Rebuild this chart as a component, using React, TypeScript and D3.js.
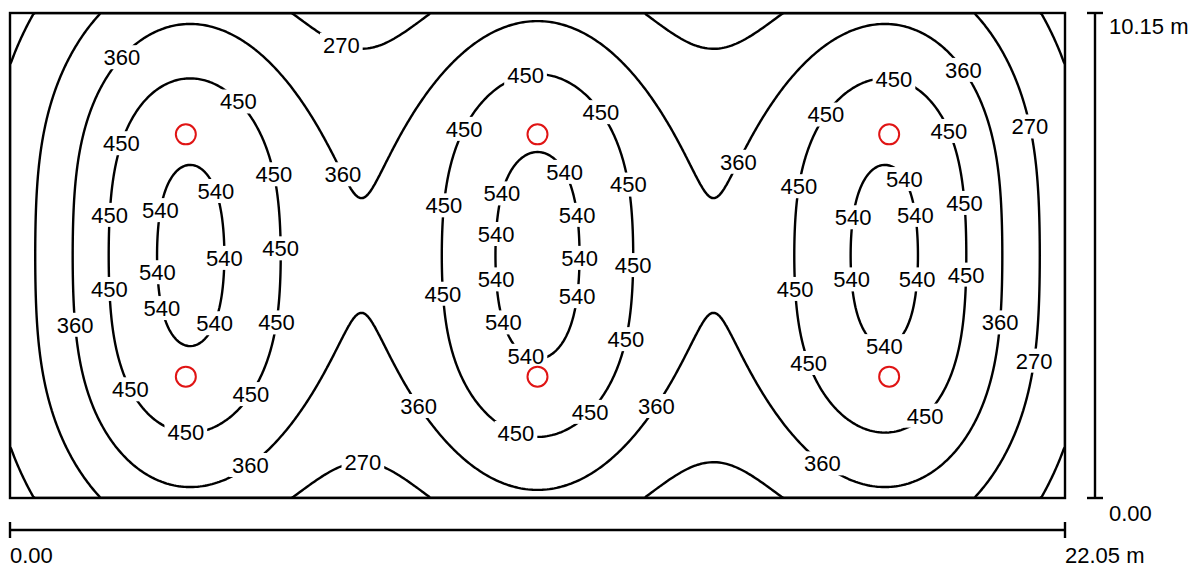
import React, { useMemo } from 'react';
import * as d3 from 'd3';

// ---------- data (metres, lux) ----------
const ROOM_W = 22.05;
const ROOM_H = 10.15;
const lumX = [3.675, 11.025, 18.375];
const lumY = [2.54, 7.61];
const levels = [180, 270, 360, 450, 540];
const axisLabels = { x0: '0.00', x1: '22.05 m', y0: '0.00', y1: '10.15 m' };

type P = [number, number];
// label anchors
const labels540: P[] = [
  [4.18, 6.4], [3.135, 6.01], [4.49, 5.04], [3.03, 4.71], [3.18, 4.0], [4.2, 3.68],
  [11.6, 6.8], [10.24, 6.4], [11.87, 5.92], [10.07, 5.55], [11.95, 5.04], [10.07, 4.56], [11.87, 4.21], [10.24, 3.68], [10.76, 2.89],
  [18.56, 6.61], [17.66, 5.86], [18.91, 5.92], [17.6, 4.58], [18.98, 4.58], [18.29, 3.33],
];
const labels450: P[] = [
  [4.87, 8.39], [2.15, 7.49], [5.54, 6.8], [1.9, 5.92], [5.79, 5.25], [1.88, 4.35], [5.62, 3.68], [2.32, 2.18], [5.14, 2.13], [3.66, 1.19],
  [10.76, 8.96], [12.44, 8.16], [9.41, 7.76], [13.0, 6.57], [8.92, 6.13], [13.17, 4.88], [8.9, 4.25], [12.94, 3.31], [12.25, 1.67], [10.49, 1.17],
  [18.5, 8.89], [16.97, 8.06], [19.77, 7.76], [16.45, 6.55], [20.11, 6.19], [16.26, 4.35], [20.13, 4.67], [16.62, 2.78], [19.27, 1.57],
];
const labels360: P[] = [
  [2.28, 9.31], [6.77, 6.7], [1.19, 3.62], [5.06, 0.65], [8.57, 1.95], [13.48, 1.95], [15.4, 6.97], [20.02, 9.02], [20.84, 3.64], [16.93, 0.65],
];
const labels270: P[] = [[6.88, 9.33], [7.38, 0.9], [21.32, 7.76], [21.44, 2.89]];

// further points
const trace540: P[] = [[3.76, 6.8], [3.76, 3.33], [11.01, 7.28], [10.87, 2.76], [18.1, 6.7]];
const trace450: P[] = [[3.55, 8.92], [8.88, 5.19], [18.39, 1.17], [9.99, 1.49]];
const trace360: P[] = [
  [3.7, 9.84], [4.66, 9.65], [5.85, 8.69], [7.32, 6.28], [8.36, 7.7], [9.55, 9.52], [10.93, 9.9], [12.06, 9.59],
  [13.02, 8.6], [14.63, 6.28], [16.51, 9.02], [18.25, 9.84], [20.86, 5.55], [19.65, 0.73], [18.39, 0.27], [14.69, 3.83],
  [10.93, 0.21], [7.32, 3.87], [3.55, 0.31], [2.09, 1.0], [1.15, 5.23],
];
const trace270: P[] = [
  [1.88, 10.15], [1.19, 9.02], [0.69, 7.64], [0.38, 5.19], [0.63, 2.05], [1.19, 0.73], [1.88, 0],
  [5.96, 10.15], [8.15, 9.65], [8.78, 10.15], [13.23, 10.15], [14.07, 9.52], [14.69, 9.21], [16.51, 10.15],
  [5.91, 0], [8.15, 0.44], [8.78, 0], [13.23, 0], [14.69, 0.94], [16.16, 0], [20.21, 10.15], [21.67, 5.23], [20.17, 0],
];
const trace180: P[] = [[0, 8.79], [0.52, 10.15], [0, 1.38], [0.56, 0], [21.53, 10.15], [22.05, 8.79], [21.99, 1.28], [21.49, 0]];

const labelSets: [number, P[]][] = [[540, labels540], [450, labels450], [360, labels360], [270, labels270]];
const traceSets: [number, P[]][] = [[540, trace540], [450, trace450], [360, trace360], [270, trace270], [180, trace180]];

// ---------- fitting a luminaire illuminance model to the traced isolines ----------
type Obs = { x: number; y: number; v: number; w: number };
const obs: Obs[] = [];
for (const [v, pts] of [...labelSets, ...traceSets]) for (const [x, y] of pts) obs.push({ x, y, v, w: 1 });

type Shape = [number, number, number, number]; // sx, sy, px, py
function basis(x: number, y: number, s: Shape) {
  let t = 0;
  for (const lx of lumX) {
    const dx = (x - lx) / s[0];
    const gx = Math.pow(1 + dx * dx, -s[2]);
    for (const ly of lumY) {
      const dy = (y - ly) / s[1];
      t += gx * Math.pow(1 + dy * dy, -s[3]);
    }
  }
  return t;
}
type Fit = { A: number; C: number; err: number; s: Shape };
function fitLinear(s: Shape): Fit {
  let n = 0, Sb = 0, Sv = 0, Sbb = 0, Sbv = 0, Svv = 0;
  for (const o of obs) {
    const b = basis(o.x, o.y, s), w = o.w;
    n += w; Sb += w * b; Sv += w * o.v; Sbb += w * b * b; Sbv += w * b * o.v; Svv += w * o.v * o.v;
  }
  const A = (n * Sbv - Sb * Sv) / (n * Sbb - Sb * Sb);
  const C = (Sv - A * Sb) / n;
  const err = Svv - 2 * A * Sbv - 2 * C * Sv + A * A * Sbb + 2 * A * C * Sb + n * C * C;
  return { A, C, err, s };
}
function descend(start: Fit): Fit {
  let best = start;
  for (const step of [0.5, 0.2, 0.1, 0.05, 0.02, 0.01]) {
    let improved = true, guard = 0;
    while (improved && guard++ < 200) {
      improved = false;
      for (let k = 0; k < 4; k++) for (const sg of [1, -1]) {
        const s = best.s.slice() as Shape;
        s[k] += sg * step * (k < 2 ? 1 : 0.5);
        if (s[k] <= 0.2) continue;
        const r = fitLinear(s);
        if (r.err < best.err - 1e-12) { best = r; improved = true; }
      }
    }
  }
  return best;
}
function evalFit(f: Fit, x: number, y: number) {
  return f.C + f.A * basis(x, y, f.s);
}
function fitModel(): Fit {
  let best: Fit | null = null;
  for (const sx of [2, 5, 9]) for (const sy of [3, 6, 11]) for (const px of [1.5, 6]) for (const py of [1.5, 6]) {
    const r = descend(fitLinear([sx, sy, px, py]));
    if (!best || r.err < best.err) best = r;
  }
  // reweight so that the fit minimises positional (not value) error of the isolines
  for (let it = 0; it < 3; it++) {
    const f = best!;
    for (const o of obs) {
      const h = 0.02;
      const gx = (evalFit(f, o.x + h, o.y) - evalFit(f, o.x - h, o.y)) / (2 * h);
      const gy = (evalFit(f, o.x, o.y + h) - evalFit(f, o.x, o.y - h)) / (2 * h);
      o.w = 1 / Math.max(gx * gx + gy * gy, 400);
    }
    best = descend(fitLinear(f.s));
  }
  return best!;
}

// ---------- layout ----------
const W = 1197, H = 567;
const X0 = 10, X1 = 1065, Y0 = 13, Y1 = 498;
const FS = 22;
const FONT = '"Liberation Sans", Arial, Helvetica, sans-serif';

export default function App() {
  const model = useMemo(() => fitModel(), []);
  const xs = d3.scaleLinear().domain([0, ROOM_W]).range([X0, X1]);
  const ys = d3.scaleLinear().domain([0, ROOM_H]).range([Y1, Y0]);

  const { contours, nx, ny, cx, cy } = useMemo(() => {
    const nx = 441, ny = 203;
    const cx = ROOM_W / nx, cy = ROOM_H / ny;
    const values = new Array(nx * ny);
    for (let j = 0; j < ny; j++)
      for (let i = 0; i < nx; i++)
        values[j * nx + i] = evalFit(model, (i + 0.5) * cx, (j + 0.5) * cy);
    const contours = d3.contours().size([nx, ny]).thresholds(levels)(values);
    return { contours, nx, ny, cx, cy };
  }, [model]);

  const path = d3.geoPath(
    d3.geoTransform({
      point(x: number, y: number) {
        (this as any).stream.point(xs(x * cx), ys(y * cy));
      },
    })
  );

  // snap each label to the nearest vertex of its isoline
  const placed = labelSets.map(([lv, pts]) => {
    const c = contours.find((k) => k.value === lv);
    const verts: P[] = [];
    if (c) for (const poly of c.coordinates) for (const ring of poly) for (const [gx, gy] of ring) {
      if (gx <= 0.01 || gx >= nx - 0.01 || gy <= 0.01 || gy >= ny - 0.01) continue;
      verts.push([gx * cx, gy * cy]);
    }
    const out = pts.map(([x, y]) => {
      let bx = x, by = y, bd = Infinity;
      for (const [vx, vy] of verts) {
        const d = (vx - x) ** 2 + (vy - y) ** 2;
        if (d < bd) { bd = d; bx = vx; by = vy; }
      }
      return { px: xs(bx), py: ys(by), text: String(lv) };
    });
    return { lv, out };
  });

  const textW = (t: string) => t.length * 0.556 * FS;

  return (
    <svg width={W} height={H} style={{ position: 'absolute', left: 0, top: 0, background: '#fff' }} fontFamily={FONT}>
      <defs>
        <clipPath id="plot">
          <rect x={X0} y={Y0} width={X1 - X0} height={Y1 - Y0} />
        </clipPath>
        {placed.map(({ lv, out }) => (
          <mask id={`m${lv}`} key={lv} maskUnits="userSpaceOnUse" x={0} y={0} width={W} height={H}>
            <rect x={0} y={0} width={W} height={H} fill="#fff" />
            {out.map((l, i) => (
              <rect key={i} x={l.px - textW(l.text) / 2 - 3} y={l.py - 12} width={textW(l.text) + 6} height={24} fill="#000" />
            ))}
          </mask>
        ))}
      </defs>
      <rect x={0} y={0} width={W} height={H} fill="#fff" />
      <g clipPath="url(#plot)">
        {contours.map((c) => (
          <g key={c.value} mask={c.value !== 180 ? `url(#m${c.value})` : undefined}>
            <path d={path(c as any) || ''} fill="none" stroke="#000" strokeWidth={2.4} strokeLinejoin="round" />
          </g>
        ))}
      </g>
      {placed.map(({ lv, out }) =>
        out.map((l, i) => (
          <text key={`${lv}-${i}`} x={l.px} y={l.py + 0.36 * FS} textAnchor="middle" fontSize={FS} fill="#000">
            {l.text}
          </text>
        ))
      )}
      {lumX.map((lx) =>
        lumY.map((ly) => (
          <circle key={`${lx}-${ly}`} cx={xs(lx)} cy={ys(ly)} r={10} fill="none" stroke="#e01414" strokeWidth={2} />
        ))
      )}
      <rect x={X0} y={Y0} width={X1 - X0} height={Y1 - Y0} fill="none" stroke="#000" strokeWidth={2.4} />
      <g stroke="#000" strokeWidth={2.4}>
        <line x1={xs(0)} x2={xs(ROOM_W)} y1={530} y2={530} />
        <line x1={xs(0)} x2={xs(0)} y1={522} y2={538} />
        <line x1={xs(ROOM_W)} x2={xs(ROOM_W)} y1={522} y2={538} />
        <line x1={1095} x2={1095} y1={ys(0)} y2={ys(ROOM_H)} />
        <line x1={1087} x2={1103} y1={ys(0)} y2={ys(0)} />
        <line x1={1087} x2={1103} y1={ys(ROOM_H)} y2={ys(ROOM_H)} />
      </g>
      <text x={xs(0)} y={563} fontSize={FS}>{axisLabels.x0}</text>
      <text x={xs(ROOM_W)} y={563} fontSize={FS}>{axisLabels.x1}</text>
      <text x={1109} y={34} fontSize={FS}>{axisLabels.y1}</text>
      <text x={1109} y={521} fontSize={FS}>{axisLabels.y0}</text>
    </svg>
  );
}
